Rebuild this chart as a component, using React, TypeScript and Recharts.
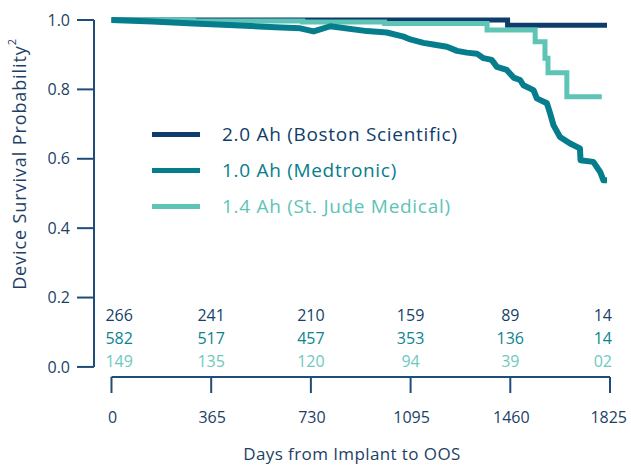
import {
  ComposedChart,
  Line,
  Scatter,
  XAxis,
  YAxis,
  Legend,
  ReferenceLine,
} from "recharts";

const DAYS = [0, 365, 730, 1095, 1460, 1825];
const Y_TICKS = [0, 0.2, 0.4, 0.6, 0.8, 1.0];

const bostonCurve = [
  { x: 0, y: 1.0 },
  { x: 1450, y: 0.985 },
  { x: 1814, y: 0.985 },
];

const stJudeCurve = [
  { x: 0, y: 1.0 },
  { x: 300, y: 0.997 },
  { x: 700, y: 0.994 },
  { x: 1000, y: 0.99 },
  { x: 1375, y: 0.971 },
  { x: 1551, y: 0.9375 },
  { x: 1587, y: 0.89 },
  { x: 1598, y: 0.848 },
  { x: 1667, y: 0.779 },
  { x: 1795, y: 0.779 },
];

const medtronicCurve = [
  { x: 0, y: 1.0 },
  { x: 150, y: 0.996 },
  { x: 300, y: 0.99 },
  { x: 450, y: 0.985 },
  { x: 600, y: 0.979 },
  { x: 691, y: 0.976 },
  { x: 740, y: 0.967 },
  { x: 801, y: 0.982 },
  { x: 935, y: 0.968 },
  { x: 1008, y: 0.964 },
  { x: 1069, y: 0.952 },
  { x: 1094, y: 0.944 },
  { x: 1142, y: 0.934 },
  { x: 1167, y: 0.931 },
  { x: 1228, y: 0.923 },
  { x: 1265, y: 0.911 },
  { x: 1301, y: 0.906 },
  { x: 1338, y: 0.903 },
  { x: 1362, y: 0.89 },
  { x: 1392, y: 0.885 },
  { x: 1411, y: 0.865 },
  { x: 1447, y: 0.856 },
  { x: 1472, y: 0.834 },
  { x: 1496, y: 0.827 },
  { x: 1508, y: 0.812 },
  { x: 1545, y: 0.798 },
  { x: 1557, y: 0.774 },
  { x: 1594, y: 0.76 },
  { x: 1606, y: 0.73 },
  { x: 1618, y: 0.697 },
  { x: 1642, y: 0.663 },
  { x: 1679, y: 0.644 },
  { x: 1715, y: 0.63 },
  { x: 1717, y: 0.596 },
  { x: 1764, y: 0.591 },
  { x: 1789, y: 0.562 },
  { x: 1801, y: 0.538 },
  { x: 1814, y: 0.538 },
];

// numbers at risk, one row per battery
const bostonAtRisk = ["266", "241", "210", "159", "89", "14"];
const medtronicAtRisk = ["582", "517", "457", "353", "136", "14"];
const stJudeAtRisk = ["149", "135", "120", "94", "39", "02"];

const NAVY = "#0f3d6b";
const TEAL = "#067d8c";
const MINT = "#5dc4b6";
const AXIS = "#1f4d78";
const LABEL = "#1d3f66";
const FONT = "'Open Sans', sans-serif";

const X_MIN = -64;
const Y_MIN = -0.029;

const series = [
  { name: "2.0 Ah (Boston Scientific)", color: NAVY },
  { name: "1.0 Ah (Medtronic)", color: TEAL },
  { name: "1.4 Ah (St. Jude Medical)", color: MINT },
];

const riskRows = [
  { values: bostonAtRisk, color: "#173f68", y: 0.149 },
  { values: medtronicAtRisk, color: "#0d8391", y: 0.083 },
  { values: stJudeAtRisk, color: "#6ccabd", y: 0.015 },
];

const riskData = (row: (typeof riskRows)[number]) =>
  DAYS.map((d, i) => ({ x: d, y: row.y, label: row.values[i], i }));

const RiskCell = (color: string) => (props: any) => {
  const { cx, cy, payload } = props;
  const last = payload.i === DAYS.length - 1;
  const first = payload.i === 0;
  return (
    <text
      x={cx + (first ? -6 : last ? 2 : 0)}
      y={cy}
      dy="0.35em"
      textAnchor={first ? "start" : last ? "end" : "middle"}
      fill={color}
      fontSize={16}
      fontFamily={FONT}
    >
      {payload.label}
    </text>
  );
};

const XTick = (props: any) => {
  const { x, y, payload, index } = props;
  const last = index === DAYS.length - 1;
  return (
    <text
      x={last ? x + 17 : x + 1}
      y={y}
      dy="0.71em"
      textAnchor={last ? "end" : "middle"}
      fill={LABEL}
      fontSize={16}
      fontFamily={FONT}
    >
      {payload.value}
    </text>
  );
};

const YTitle = () => (
  <text
    x={19}
    y={164}
    transform="rotate(-90 19 164)"
    textAnchor="middle"
    dominantBaseline="central"
    fill={LABEL}
    fontSize={18}
    letterSpacing={0.9}
    fontFamily={FONT}
  >
    Device Survival Probability
    <tspan dy={-8} fontSize={11}>
      2
    </tspan>
  </text>
);

const LegendBox = () => (
  <div style={{ fontFamily: FONT }}>
    {series.map((s) => (
      <div
        key={s.name}
        style={{ display: "flex", alignItems: "center", height: 36 }}
      >
        <span
          style={{
            display: "inline-block",
            width: 48,
            height: 5,
            background: s.color,
            marginRight: 22,
          }}
        />
        <span style={{ color: s.color, fontSize: 19, letterSpacing: 0.7 }}>
          {s.name}
        </span>
      </div>
    ))}
  </div>
);

export default function App() {
  return (
    <div style={{ position: "absolute", left: 0, top: 0 }}>
      <ComposedChart
        width={631}
        height={466}
        margin={{ top: 20, right: 21, bottom: 0, left: 0 }}
      >
        <XAxis
          type="number"
          dataKey="x"
          domain={[X_MIN, 1825]}
          ticks={DAYS}
          axisLine={false}
          tickLine={{ stroke: AXIS, strokeWidth: 2 }}
          tickSize={16}
          tickMargin={19}
          height={89}
          tick={<XTick />}
          label={{
            value: "Days from Implant to OOS",
            position: "insideBottom",
            offset: 6,
            fill: LABEL,
            fontSize: 17,
            letterSpacing: 0.4,
            fontFamily: FONT,
          }}
        />
        <YAxis
          type="number"
          dataKey="y"
          domain={[Y_MIN, 1]}
          ticks={Y_TICKS}
          width={94}
          axisLine={false}
          tickLine={{ stroke: AXIS, strokeWidth: 2 }}
          tickSize={17}
          tickMargin={7}
          tickFormatter={(v: number) => v.toFixed(1)}
          tick={{ fill: LABEL, fontSize: 16, fontFamily: FONT }}
          label={{ content: <YTitle /> }}
        />
        <ReferenceLine
          segment={[
            { x: X_MIN, y: 0 },
            { x: X_MIN, y: 1 },
          ]}
          stroke={AXIS}
          strokeWidth={2}
          ifOverflow="visible"
        />
        <ReferenceLine
          segment={[
            { x: 0, y: Y_MIN },
            { x: 1825, y: Y_MIN },
          ]}
          stroke={AXIS}
          strokeWidth={2}
          ifOverflow="visible"
        />
        <Legend
          layout="vertical"
          align="center"
          verticalAlign="middle"
          content={<LegendBox />}
          wrapperStyle={{ left: 152, top: 116, width: "auto" }}
        />
        <Line
          data={bostonCurve}
          dataKey="y"
          type="stepAfter"
          stroke={NAVY}
          strokeWidth={5}
          dot={false}
          isAnimationActive={false}
          legendType="none"
        />
        <Line
          data={stJudeCurve}
          dataKey="y"
          type="stepAfter"
          stroke={MINT}
          strokeWidth={5}
          dot={false}
          isAnimationActive={false}
          legendType="none"
        />
        <Line
          data={medtronicCurve}
          dataKey="y"
          type="linear"
          stroke={TEAL}
          strokeWidth={6}
          strokeLinejoin="round"
          dot={false}
          isAnimationActive={false}
          legendType="none"
        />
        {riskRows.map((row, k) => (
          <Scatter
            key={k}
            data={riskData(row)}
            dataKey="y"
            shape={RiskCell(row.color)}
            isAnimationActive={false}
            legendType="none"
          />
        ))}
      </ComposedChart>
    </div>
  );
}
